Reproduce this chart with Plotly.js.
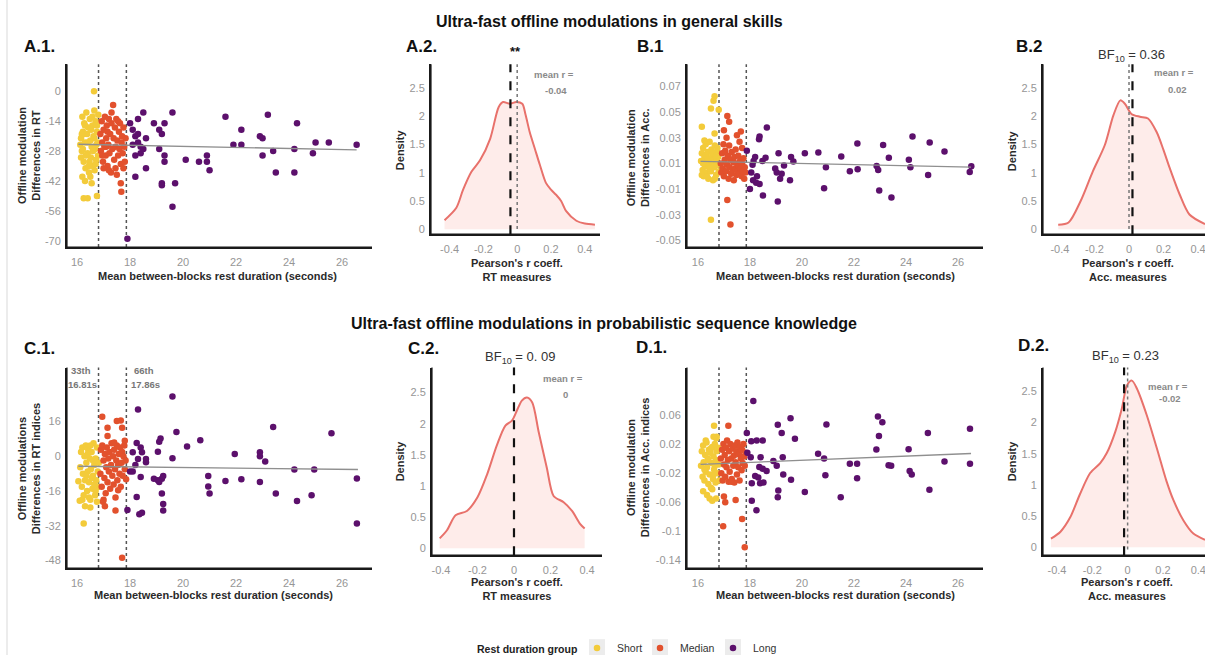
<!DOCTYPE html>
<html><head><meta charset="utf-8">
<script src="https://cdn.plot.ly/plotly-3.0.1.min.js"></script>
<style>html,body{margin:0;padding:0;background:#fff;overflow:hidden}#c{width:1205px;height:663px}</style>
</head><body><div id="c"></div>
<script>
// ---------- DATA ----------
const groups = ['Short','Median','Long'];
const xTicksDur = [16,18,20,22,24,26];
const xTicksR = [-0.4,-0.2,0,0.2,0.4];
const xTickTextR = ['-0.4','-0.2','0','0.2','0.4'];
const yTicksDens = [0,0.5,1,1.5,2,2.5];
const yTickTextDens = ['0','0.5','1','1.5','2','2.5'];
const yTicksA1 = [0,-14,-28,-42,-56,-70];
const yTickTextA1 = ['0','-14','-28','-42','-56','-70'];
const yTicksB1 = [0.07,0.05,0.03,0.01,-0.01,-0.03,-0.05];
const yTickTextB1 = ['0.07','0.05','0.03','0.01','-0.01','-0.03','-0.05'];
const yTicksC1 = [16,0,-16,-32,-48];
const yTickTextC1 = ['16','0','-16','-32','-48'];
const yTicksD1 = [0.06,0.02,-0.02,-0.06,-0.1,-0.14];
const yTickTextD1 = ['0.06','0.02','-0.02','-0.06','-0.1','-0.14'];
const percentiles = [16.81, 17.86];

// A.1 : RT offline modulation
const a1ShortX = [16.12,16.15,16.18,16.2,16.22,16.25,16.27,16.3,16.32,16.35,16.38,16.4,16.42,16.45,16.48,16.5,16.52,16.55,16.58,16.6,16.62,16.65,16.68,16.7,16.72,16.75,16.78,16.8,16.15,16.22,16.28,16.33,16.4,16.47,16.53,16.6,16.66,16.73,16.79,16.2,16.3,16.45,16.55,16.65,16.75,16.64,16.25,16.4,16.75,16.5,16.3,16.18,16.7,16.58];
const a1ShortY = [-25,-22,-28,-12,-19,-33,-15,-24,-36,-10,-20,-29,-17,-38,-13,-23,-31,-26,-16,-35,-21,-9,-27,-14,-32,-19,-24,-11,-31,-27,-20,-30,-24,-33,-18,-28,-37,-25,-30,-40,-42,-35,-43,-22,-16,0,-50,-50,-49,-40,-16,-20,-34,-12];
const a1MedX = [16.88,16.9,16.93,16.95,16.98,17.0,17.03,17.05,17.08,17.1,17.12,17.15,17.18,17.2,17.22,17.25,17.28,17.3,17.33,17.36,17.38,17.4,17.43,17.45,17.48,17.5,17.52,17.55,17.58,17.6,17.62,17.65,17.68,17.7,17.72,17.75,17.78,17.8,17.83,17.2,17.3,17.0,17.65,17.67,17.1,17.45,17.55,16.95,17.75,17.15];
const a1MedY = [-20,-28,-14,-24,-33,-18,-26,-12,-30,-22,-16,-35,-25,-13,-29,-20,-38,-15,-27,-6.5,-22,-32,-17,-26,-13,-39,-23,-30,-19,-27,-15,-34,-24,-21,-29,-17,-26,-33,-22,-37,-10,-36,-43,-47,-26,-36,-14,-30,-36,-19];
const a1LongX = [18.0,18.1,18.2,18.3,18.3,18.4,18.4,18.5,18.5,18.2,18.1,18.3,18.6,18.6,18.2,18.9,19.1,19.2,19.3,19.1,19.3,19.3,19.6,19.2,19.2,19.7,19.6,20.1,20.6,20.9,20.9,21.0,21.6,21.9,22.2,22.2,22.9,23.0,23.0,23.2,23.4,23.5,24.2,24.2,24.3,24.9,25.0,25.5,26.55,17.9];
const a1LongY = [-15,-18,-21,-13,-24,-26,-29,-10,-27,-30,-25,-20,-22,-36,-40,-15,-18,-20,-15,-27,-30,-33,-10,-43,-44,-43,-54,-32,-33,-30,-33,-37,-12,-25,-25,-18,-21,-22,-30,-11,-28,-38,-38,-27,-15,-29,-24,-24,-25,-69];
const a1FitX = [16.05, 26.55];
const a1FitY = [-24.8, -27.4];

// B.1 : Accuracy offline modulation
const b1ShortX = [16.12,16.15,16.18,16.2,16.22,16.25,16.28,16.3,16.33,16.35,16.38,16.4,16.42,16.45,16.48,16.5,16.52,16.55,16.58,16.6,16.62,16.65,16.68,16.7,16.72,16.75,16.78,16.8,16.15,16.25,16.35,16.45,16.55,16.65,16.75,16.2,16.4,16.6,16.3,16.5,16.7,16.64,16.6,16.5,16.8,16.15,16.64,16.5];
const b1ShortY = [0.012,0.018,0.005,0.022,0.0,0.015,0.008,0.025,0.003,0.012,0.019,-0.002,0.009,0.027,0.014,0.004,0.021,0.011,-0.003,0.017,0.007,0.024,0.013,0.001,0.019,0.009,0.015,0.004,0.001,0.028,0.0,0.006,0.018,-0.002,0.022,0.01,0.014,0.01,0.016,0.012,0.016,0.0625,0.059,0.053,0.052,0.0387,0.0335,-0.034];
const b1MedX = [16.88,16.9,16.93,16.95,16.98,17.0,17.03,17.05,17.08,17.1,17.12,17.15,17.18,17.2,17.22,17.25,17.28,17.3,17.33,17.36,17.38,17.4,17.43,17.45,17.48,17.5,17.52,17.55,17.58,17.6,17.62,17.65,17.68,17.7,17.72,17.75,17.78,17.8,17.83,17.0,17.13,17.2,17.13,17.25,17.65,17.5,17.6,17.7];
const b1MedY = [0.01,0.003,0.018,0.006,0.025,0.0,0.013,0.02,0.004,0.03,0.009,0.016,-0.002,0.024,0.007,0.013,0.002,0.019,0.005,0.011,-0.003,0.015,0.006,0.021,0.001,0.01,0.004,0.016,0.008,0.002,0.012,0.006,0.0,0.01,0.004,0.014,-0.002,0.007,0.003,0.036,0.047,0.0425,-0.0186,-0.0377,0.035,0.032,0.027,0.022];
const b1LongX = [18.65,18.37,17.88,18.2,18.48,18.14,18.05,18.27,18.12,18.24,18.37,18.0,18.5,19.1,18.97,19.03,19.22,19.16,19.31,19.54,19.58,19.67,19.07,20.11,20.63,20.92,20.85,21.51,21.84,22.14,22.13,22.87,22.93,23.12,22.97,23.34,23.44,24.11,24.17,24.25,24.85,24.91,25.48,26.51,26.45,18.6,18.35,18.1];
const b1LongY = [0.038,0.031,0.02,0.015,0.012,0.012,0.003,0.0,-0.003,-0.005,-0.006,-0.01,-0.015,0.018,0.006,0.003,0.002,-0.002,0.0085,-0.003,0.015,0.0115,-0.0197,0.018,0.0185,0.007,-0.0094,0.0155,0.004,0.0055,0.0256,0.008,0.005,0.0245,-0.011,0.0145,-0.0166,0.013,0.007,0.031,0.001,0.0263,0.0194,0.0078,0.0034,0.0145,0.029,0.009];
const b1FitX = [16.1, 26.5];
const b1FitY = [0.0117, 0.0072];

// C.1 : RT indices offline modulation
const c1ShortX = [16.12,16.15,16.18,16.2,16.22,16.25,16.28,16.3,16.33,16.35,16.38,16.4,16.42,16.45,16.48,16.5,16.52,16.55,16.58,16.6,16.62,16.65,16.68,16.7,16.72,16.75,16.78,16.8,16.82,16.2,16.3,16.45,16.55,16.65,16.75,16.4,16.6,16.35,16.5,16.7,16.25,16.5,16.1,16.05];
const c1ShortY = [-5,2,-14,4,-8,-18,0,-11,5,-3,-16,-7,3,-12,-1,-20,-6,2,-15,-9,6,-4,-18,-1,-11,4,-7,-14,-3,-20,-23,-19,-10,-13,-21,1,-2,-9,5,-16,-31,-23.6,-20.5,-11.5];
const c1MedX = [16.88,16.9,16.93,16.95,16.98,17.0,17.03,17.05,17.08,17.1,17.12,17.15,17.18,17.2,17.22,17.25,17.28,17.3,17.33,17.36,17.38,17.4,17.43,17.45,17.48,17.5,17.52,17.55,17.58,17.6,17.62,17.65,17.68,17.7,17.72,17.75,17.78,17.8,17.83,16.95,17.65,17.5,17.7,17.15,17.15,17.4,17.8,17.45,17.05,17.7,17.85,17.55,17.0];
const c1MedY = [-8,3,-14,5,-21,-2,-10,1,-17,-5,4,-12,-1,-7,2,-15,-4,6,-9,0,-13,3,-6,-19,-2,5,-11,-4,1,-8,4,-14,-3,2,-9,0,5,-6,-2,18.2,16.5,16.2,13.2,13.2,9.4,6.4,7.1,-25,-23,-46.7,-10.6,-15.6,-20];
const c1LongX = [19.6,18.3,19.75,23.4,25.6,20.65,20.15,19.15,19.1,19.05,19.6,18.25,18.4,18.1,18.45,18.3,18.2,18.6,18.6,18.0,18.1,18.4,18.9,19.05,19.2,19.25,19.1,19.2,19.25,19.25,18.25,17.9,18.45,18.35,20.95,20.95,21.0,21.6,22.2,21.95,22.9,22.9,23.1,22.9,23.5,24.2,24.3,24.95,24.85,26.56,26.56];
const c1LongY = [27.6,21.5,11.2,13.5,10.6,7.4,4.5,8.2,6.7,2.1,-0.9,6.1,4.1,1.8,1.8,-1.2,-4,-2.7,-1.2,-7,-7,-9.5,-10.3,-11,-10.3,-9.1,-11.8,-17.1,-22,-25,-18.8,-24.7,-26,-26.7,-9.1,-13.9,-17.1,-11.4,-10.6,1.1,1.8,0,-2.4,-11.8,-17.1,-6.1,-20.6,-6.1,-17.9,-10.2,-31];
const c1FitX = [16.05, 26.6];
const c1FitY = [-4.6, -6.1];

// D.1 : Accuracy indices offline modulation
const d1ShortX = [16.12,16.15,16.18,16.2,16.22,16.25,16.28,16.3,16.33,16.35,16.38,16.4,16.42,16.45,16.48,16.5,16.52,16.55,16.58,16.6,16.62,16.65,16.68,16.7,16.72,16.75,16.78,16.8,16.82,16.2,16.35,16.45,16.55,16.3,16.4,16.6,16.7,16.25,16.5,16.65,16.62,16.72,16.6,16.55,16.7];
const d1ShortY = [-0.01,0.01,-0.025,0.018,-0.005,-0.03,0.005,-0.018,0.022,-0.012,0.0,-0.035,0.012,-0.022,0.008,-0.04,-0.006,0.016,-0.028,0.003,-0.015,0.02,-0.033,-0.002,0.01,-0.02,0.015,-0.008,-0.03,-0.045,-0.05,-0.055,-0.042,0.025,-0.002,-0.022,0.028,-0.015,0.014,-0.01,0.045,0.03,0.03,-0.058,-0.055];
const d1MedX = [16.88,16.9,16.93,16.95,16.98,17.0,17.03,17.05,17.08,17.1,17.12,17.15,17.18,17.2,17.22,17.25,17.28,17.3,17.33,17.36,17.38,17.4,17.43,17.45,17.48,17.5,17.52,17.55,17.58,17.6,17.62,17.65,17.68,17.7,17.72,17.75,17.78,17.8,17.83,17.17,17.0,17.05,17.45,16.97,17.7,17.8,17.3];
const d1MedY = [0.0,-0.02,0.012,-0.03,0.02,-0.008,0.005,-0.025,0.015,-0.012,0.025,-0.002,-0.032,0.01,-0.018,0.02,0.0,-0.028,0.014,-0.01,0.004,-0.033,0.018,-0.005,0.01,-0.022,0.022,-0.012,0.006,-0.03,0.016,0.0,-0.016,0.012,-0.006,0.02,0.003,-0.01,0.008,0.045,-0.052,-0.06,-0.057,-0.093,-0.083,-0.122,-0.032];
const d1LongX = [18.13,19.56,19.07,19.22,19.73,17.88,18.05,18.26,18.49,17.9,18.03,18.41,18.36,18.49,18.64,18.2,18.32,18.39,18.07,18.52,18.07,18.25,18.9,19.03,19.26,19.28,19.58,19.09,19.07,20.11,20.62,20.85,20.9,20.94,21.49,21.84,22.12,22.12,22.86,22.92,23.09,22.96,23.33,23.43,24.1,24.14,24.22,24.84,24.9,25.48,26.46,26.46];
const d1LongY = [0.079,0.0555,0.0464,0.035,0.0274,0.035,0.024,0.025,0.025,0.008,0.002,0.002,-0.0115,-0.014,-0.017,-0.024,-0.026,-0.034,-0.034,-0.033,-0.058,-0.071,-0.0033,-0.01,0.002,-0.022,-0.029,-0.044,-0.053,-0.046,0.0066,0.0,-0.023,0.047,-0.053,-0.007,-0.007,-0.027,0.0125,0.058,0.05,0.031,-0.009,-0.010,0.013,-0.017,-0.022,0.035,-0.043,-0.004,0.041,-0.007];
const d1FitX = [16.1, 26.5];
const d1FitY = [-0.0079, 0.007];

// Density of Pearson's r
const a2X = [-0.43,-0.36,-0.32,-0.27,-0.22,-0.16,-0.11,-0.084,-0.044,-0.005,0.03,0.05,0.074,0.105,0.134,0.17,0.2,0.23,0.26,0.29,0.35,0.4,0.46];
const a2Y = [0.16,0.38,0.7,1.02,1.22,1.6,2.16,2.25,2.22,2.25,2.22,2.02,1.72,1.42,1.14,0.82,0.7,0.61,0.5,0.32,0.15,0.1,0.08];
const b2X = [-0.41,-0.35,-0.28,-0.21,-0.14,-0.09,-0.05,-0.024,0.014,0.063,0.11,0.16,0.2,0.236,0.294,0.35,0.44];
const b2Y = [0.08,0.12,0.5,1.02,1.49,2.02,2.28,2.22,2.04,1.99,1.96,1.72,1.4,1.08,0.61,0.26,0.09];
const c2X = [-0.407,-0.367,-0.32,-0.258,-0.2,-0.148,-0.093,-0.047,-0.011,0.016,0.043,0.071,0.1,0.135,0.18,0.217,0.272,0.318,0.363,0.387];
const c2Y = [0.16,0.29,0.53,0.6,0.82,1.18,1.66,1.97,2.05,2.21,2.37,2.42,2.34,1.87,1.29,0.84,0.74,0.6,0.39,0.32];
const d2X = [-0.434,-0.38,-0.325,-0.27,-0.212,-0.155,-0.118,-0.07,-0.033,-0.004,0.024,0.053,0.108,0.165,0.22,0.26,0.316,0.372,0.438];
const d2Y = [0.14,0.25,0.48,0.85,1.19,1.35,1.51,1.85,2.22,2.59,2.67,2.54,2.12,1.59,1.06,0.75,0.43,0.22,0.12];
const meanR = [-0.04, 0.02, 0, -0.02];
const meanRText = ['-0.04','0.02','0','-0.02'];
const bfText = ['**','BF<sub>10</sub> = 0.36','BF<sub>10</sub> = 0. 09','BF<sub>10</sub> = 0.23'];

// ---------- STYLE / LAYOUT ----------
const W = 1205, H = 663;
const fx = p => p / W, fy = p => 1 - p / H;
const COL = {Short:'#F3CB3A', Median:'#E2512D', Long:'#5C106C'};
const FONT = 'Liberation Sans, Arial, sans-serif';
const legendIds = ['legend','legend2','legend3'];
const traces = [];

function scatterPanel(ax, sets, fit, legend) {
  const xa = ax === 1 ? 'x' : 'x' + ax, ya = ax === 1 ? 'y' : 'y' + ax;
  sets.forEach((s, i) => {
    traces.push({type:'scatter', mode:'markers', x:s[0], y:s[1], xaxis:xa, yaxis:ya,
      name:groups[i], legendgroup:groups[i], showlegend:legend, legend:legendIds[i],
      marker:{color:COL[groups[i]], size:6.5, line:{width:0}}, hoverinfo:'x+y'});
  });
  traces.push({type:'scatter', mode:'lines', x:fit[0], y:fit[1], xaxis:xa, yaxis:ya,
    showlegend:false, line:{color:'#8f8f8f', width:1.3}, hoverinfo:'skip'});
}
function densPanel(ax, xs, ys) {
  traces.push({type:'scatter', mode:'lines', x:xs, y:ys, xaxis:'x'+ax, yaxis:'y'+ax,
    showlegend:false, fill:'tozeroy', fillcolor:'rgba(248,118,109,0.14)',
    line:{color:'#E8716B', width:2, shape:'spline', smoothing:0.8}, hoverinfo:'skip'});
}

scatterPanel(1, [[a1ShortX,a1ShortY],[a1MedX,a1MedY],[a1LongX,a1LongY]], [a1FitX,a1FitY], true);
densPanel(2, a2X, a2Y);
scatterPanel(3, [[b1ShortX,b1ShortY],[b1MedX,b1MedY],[b1LongX,b1LongY]], [b1FitX,b1FitY], false);
densPanel(4, b2X, b2Y);
scatterPanel(5, [[c1ShortX,c1ShortY],[c1MedX,c1MedY],[c1LongX,c1LongY]], [c1FitX,c1FitY], false);
densPanel(6, c2X, c2Y);
scatterPanel(7, [[d1ShortX,d1ShortY],[d1MedX,d1MedY],[d1LongX,d1LongY]], [d1FitX,d1FitY], false);
densPanel(8, d2X, d2Y);

const baseAx = {showline:true, linecolor:'#1a1a1a', linewidth:2, mirror:false, showgrid:false, zeroline:false,
  ticks:'outside', ticklen:4, tickcolor:'rgba(255,255,255,0)', ticklabeloverflow:'allow',
  tickfont:{family:FONT, size:11, color:'#969696'}, fixedrange:true, tickmode:'array'};
function xax(dom, range, anchor, vals, text) {
  return Object.assign({}, baseAx, {domain:dom, range:range, anchor:anchor, tickvals:vals, ticktext:text});
}
function yax(dom, range, anchor, vals, text) {
  return Object.assign({}, baseAx, {domain:dom, range:range, anchor:anchor, tickvals:vals, ticktext:text, ticklen:2});
}
const durText = xTicksDur.map(String);
const legBase = {orientation:'h', xanchor:'left', yanchor:'middle', y:fy(656),
  font:{size:10.5, color:'#333', family:FONT}, itemwidth:30, bgcolor:'rgba(0,0,0,0)', borderwidth:0};
const legMarkerX = [597, 660, 733];

// panel frames in page pixels: [left, right, top, bottom]
const frames = [[67,372,65,250],[431,600,65,237],[687,983,65,250],[1043,1205,65,237],
                [67,372,372,575],[432,602,372,562],[687,983,372,575],[1043,1205,372,562]];
const dom = f => ({x:[fx(f[0]), Math.min(1, fx(f[1]))], y:[fy(f[3]), fy(f[2])]});

const layout = {
  width:W, height:H, margin:{l:0,r:0,t:0,b:0}, paper_bgcolor:'#ffffff', plot_bgcolor:'#ffffff',
  font:{family:FONT, color:'#222'},
  xaxis:  xax(dom(frames[0]).x, [15.62,27.13], 'y', xTicksDur, durText),
  yaxis:  yax(dom(frames[0]).y, [-72.8,12.6], 'x', yTicksA1, yTickTextA1),
  xaxis2: xax(dom(frames[1]).x, [-0.51,0.49], 'y2', xTicksR, xTickTextR),
  yaxis2: yax(dom(frames[1]).y, [-0.087,2.92], 'x2', yTicksDens, yTickTextDens),
  xaxis3: xax(dom(frames[2]).x, [15.58,26.96], 'y3', xTicksDur, durText),
  yaxis3: yax(dom(frames[2]).y, [-0.0552,0.0875], 'x3', yTicksB1, yTickTextB1),
  xaxis4: xax(dom(frames[3]).x, [-0.498,0.44], 'y4', xTicksR, xTickTextR),
  yaxis4: yax(dom(frames[3]).y, [-0.087,2.92], 'x4', yTicksDens, yTickTextDens),
  xaxis5: xax(dom(frames[4]).x, [15.62,27.13], 'y5', xTicksDur, durText),
  yaxis5: yax(dom(frames[4]).y, [-51.5,40.9], 'x5', yTicksC1, yTickTextC1),
  xaxis6: xax(dom(frames[5]).x, [-0.449,0.482], 'y6', xTicksR, xTickTextR),
  yaxis6: yax(dom(frames[5]).y, [-0.11,2.9], 'x6', yTicksDens, yTickTextDens),
  xaxis7: xax(dom(frames[6]).x, [15.58,26.96], 'y7', xTicksDur, durText),
  yaxis7: yax(dom(frames[6]).y, [-0.1505,0.1252], 'x7', yTicksD1, yTickTextD1),
  xaxis8: xax(dom(frames[7]).x, [-0.479,0.438], 'y8', xTicksR, xTickTextR),
  yaxis8: yax(dom(frames[7]).y, [-0.127,2.88], 'x8', yTicksDens, yTickTextDens),
  showlegend:true,
  legend:  Object.assign({}, legBase, {x:fx(legMarkerX[0]-20)}),
  legend2: Object.assign({}, legBase, {x:fx(legMarkerX[1]-20)}),
  legend3: Object.assign({}, legBase, {x:fx(legMarkerX[2]-20)}),
  shapes:[], annotations:[]
};

// left border
layout.shapes.push({type:'line', xref:'paper', yref:'paper', x0:fx(7), x1:fx(7), y0:0, y1:1, line:{color:'#d9d9d9', width:1}});
// legend key backgrounds
legMarkerX.forEach(mx => layout.shapes.push({type:'rect', xref:'paper', yref:'paper',
  x0:fx(mx-8), x1:fx(mx+8), y0:fy(663), y1:fy(647), fillcolor:'#ececec', line:{width:0}, layer:'below'}));
// axis frames as open paths (left + bottom)
frames.forEach(f => {
  const xl = fx(f[0]), xr = Math.min(1, fx(f[1])), yb = fy(f[3]), yt = fy(f[2]);
  layout.shapes.push({type:'path', xref:'paper', yref:'paper', layer:'above',
    path:`M ${xl} ${yt} L ${xl} ${yb} L ${xr} ${yb}`, line:{color:'#1a1a1a', width:1.2}});
});
// percentile lines in scatter panels
[['x','y'],['x3','y3'],['x5','y5'],['x7','y7']].forEach(([xa,ya]) => {
  percentiles.forEach(p => layout.shapes.push({type:'line', xref:xa, yref:ya+' domain', x0:p, x1:p, y0:0, y1:1,
    line:{color:'#555', width:1.5, dash:'dot'}, layer:'below'}));
});
// mean r (dashed) and zero (dotted) lines in density panels
[['x2','y2'],['x4','y4'],['x6','y6'],['x8','y8']].forEach(([xa,ya], i) => {
  const m = meanR[i];
  if (m !== 0) layout.shapes.push({type:'line', xref:xa, yref:ya+' domain', x0:0, x1:0, y0:0.03, y1:1, line:{color:'#777', width:1.5, dash:'dot'}});
  layout.shapes.push({type:'line', xref:xa, yref:ya+' domain', x0:m, x1:m, y0:0, y1:1, line:{color:'#111', width:2.2, dash:'dash'}});
});

function ann(text, x, y, o) {
  layout.annotations.push(Object.assign({text:text, xref:'paper', yref:'paper', x:fx(x), y:fy(y),
    xanchor:'center', yanchor:'middle', showarrow:false, font:{family:FONT, size:10, color:'#222'}}, o || {}));
}
// main titles
ann('<b>Ultra-fast offline modulations in general skills</b>', 609, 22, {font:{family:FONT, size:16, color:'#111'}});
ann('<b>Ultra-fast offline modulations in probabilistic sequence knowledge</b>', 604, 327, {font:{family:FONT, size:16, color:'#111'}});
// panel labels
[['A.1.',22,47],['A.2.',404,47],['B.1',635,47],['B.2',1014,47],['C.1.',22,353],['C.2.',406,353],['D.1.',634,352],['D.2.',1016,350]]
  .forEach(([t,x,y]) => ann('<b>'+t+'</b>', x, y, {xanchor:'left', font:{family:FONT, size:17, color:'#111'}}));
// y-axis titles
const yt = {textangle:-90, font:{family:FONT, size:11, color:'#2a2a2a'}};
ann('<b>Offline modulation<br>Differences in RT</b>', 29, 158, yt);
ann('<b>Offline modulation<br>Differences in Acc.</b>', 638, 160, yt);
ann('<b>Offline modulations<br>Differences in RT indices</b>', 29, 475, yt);
ann('<b>Offline modulation<br>Differences in Acc. indices</b>', 638, 473, yt);
ann('<b>Density</b>', 400, 152, yt);
ann('<b>Density</b>', 1012, 153, yt);
ann('<b>Density</b>', 400, 467, yt);
ann('<b>Density</b>', 1012, 467, yt);
// x-axis titles
const xt = {font:{family:FONT, size:11, color:'#2a2a2a'}};
ann('<b>Mean between-blocks rest duration (seconds)</b>', 217, 279, xt);
ann('<b>Mean between-blocks rest duration (seconds)</b>', 835, 279, xt);
ann('<b>Mean between-blocks rest duration (seconds)</b>', 213, 602, xt);
ann('<b>Mean between-blocks rest duration (seconds)</b>', 835, 602, xt);
ann("<b>Pearson's r coeff.<br>RT measures</b>", 517, 273, xt);
ann("<b>Pearson's r coeff.<br>Acc. measures</b>", 1128, 273, xt);
ann("<b>Pearson's r coeff.<br>RT measures</b>", 517, 596, xt);
ann("<b>Pearson's r coeff.<br>Acc. measures</b>", 1127, 596, xt);
// percentile labels
const pl = {font:{family:FONT, size:9.5, color:'#777'}};
ann('<b>33th</b>', 81, 375, pl); ann('<b>16.81s</b>', 82, 389, pl);
ann('<b>66th</b>', 144, 375, pl); ann('<b>17.86s</b>', 145, 389, pl);
// mean r labels
const mr = {font:{family:FONT, size:9.5, color:'#8a8a8a'}};
ann('<b>mean r =</b>', 554, 75, mr); ann('<b>'+meanRText[0]+'</b>', 556, 92, mr);
ann('<b>mean r =</b>', 1174, 73, mr); ann('<b>'+meanRText[1]+'</b>', 1177, 91, mr);
ann('<b>mean r =</b>', 563, 383, mr); ann('<b>'+meanRText[2]+'</b>', 565, 399, mr);
ann('<b>mean r =</b>', 1168, 391, mr); ann('<b>'+meanRText[3]+'</b>', 1170, 403, mr);
// BF / significance
ann('<b>'+bfText[0]+'</b>', 515, 52, {font:{family:FONT, size:13, color:'#111'}});
const bf = {font:{family:FONT, size:13, color:'#333'}};
ann(bfText[1], 1131, 56, bf);
ann(bfText[2], 520, 362, bf);
ann(bfText[3], 1125, 361, bf);
// legend title
ann('<b>Rest duration group</b>', 527, 657, {font:{family:FONT, size:10.5, color:'#222'}});

Plotly.newPlot('c', traces, layout, {staticPlot:true, displayModeBar:false});
</script></body></html>
